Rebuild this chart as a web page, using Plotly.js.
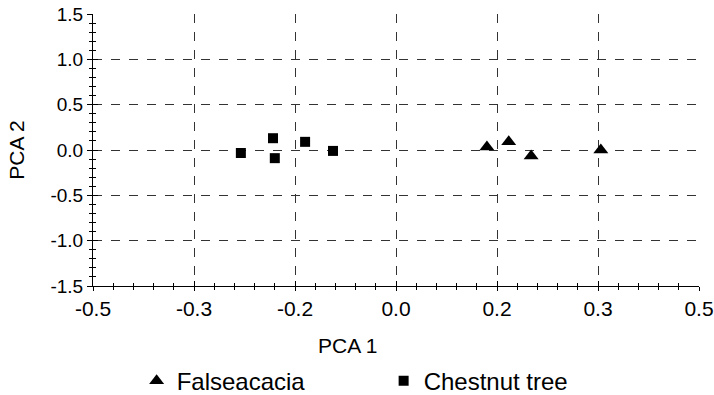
<!DOCTYPE html>
<html>
<head>
<meta charset="utf-8">
<script src="https://cdn.plot.ly/plotly-3.0.1.min.js"></script>
<style>html,body{margin:0;padding:0;background:#fff}#chart{width:714px;height:395px}</style>
</head>
<body>
<div id="chart"></div>
<script>
const falseacaciaX = [0.150, 0.186, 0.223, 0.338];
const falseacaciaY = [0.033, 0.09, -0.066, 0.0];
const chestnutX = [-0.256, -0.203, -0.200, -0.150, -0.104];
const chestnutY = [-0.033, 0.13, -0.09, 0.09, -0.01];
const xTickVals = [-0.5, -1/3, -1/6, 0, 1/6, 1/3, 0.5];
const xTickText = ["-0.5", "-0.3", "-0.2", "0.0", "0.2", "0.3", "0.5"];
const yTickVals = [-1.5, -1.0, -0.5, 0, 0.5, 1.0, 1.5];
const yTickText = ["-1.5", "-1.0", "-0.5", "0.0", "0.5", "1.0", "1.5"];
const xTitle = "PCA 1";
const yTitle = "PCA 2";

const FAM = "Liberation Sans, Arial, sans-serif";
const f = (s) => ({family: FAM, size: s, color: "#000"});

const traces = [
  {x: falseacaciaX, y: falseacaciaY, name: "Falseacacia", type: "scatter", mode: "markers",
   marker: {symbol: "triangle-up", size: 13, color: "#000"}},
  {x: chestnutX, y: chestnutY, name: "Chestnut tree", type: "scatter", mode: "markers",
   marker: {symbol: "square", size: 10, color: "#000"}},
  {x: [], y: [], xaxis: "x2", yaxis: "y2", type: "scatter", mode: "markers",
   showlegend: false, hoverinfo: "skip"}
];

const gridCommon = {showgrid: true, gridcolor: "#333", griddash: "dash", gridwidth: 1};

const layout = {
  width: 714, height: 395,
  margin: {l: 93, r: 15, t: 14, b: 109, autoexpand: false},
  paper_bgcolor: "#fff", plot_bgcolor: "#fff",
  font: f(17),
  showlegend: true,
  legend: {orientation: "h", x: 0.072, y: -0.35, xanchor: "left", yanchor: "middle",
           font: f(24), entrywidth: 202, itemwidth: 30, tracegroupgap: 0},
  xaxis: Object.assign({
    range: [-0.5, 0.5], tickmode: "array", tickvals: xTickVals, ticktext: xTickText,
    showline: true, linecolor: "#000", linewidth: 1, zeroline: false,
    ticks: "outside", ticklen: 4, tickcolor: "#000",
    minor: {tick0: -0.5, dtick: 1/30, ticks: "outside", ticklen: 3, tickcolor: "#000", showgrid: false},
    tickfont: f(21), automargin: false
  }, gridCommon),
  yaxis: Object.assign({
    range: [-1.5, 1.5], tickmode: "array", tickvals: yTickVals, ticktext: yTickText,
    showline: true, linecolor: "#000", linewidth: 1, zeroline: false,
    ticks: "outside", ticklen: 5, tickcolor: "#000",
    minor: {tick0: -1.5, dtick: 0.1, ticks: "outside", ticklen: 3, tickcolor: "#000", showgrid: false},
    title: {text: yTitle, font: f(21), standoff: 20},
    tickfont: f(19), automargin: false
  }, gridCommon),
  xaxis2: {
    overlaying: "x", matches: "x", anchor: "y2", side: "bottom", range: [-0.5, 0.5],
    tickmode: "array", tickvals: xTickVals, showticklabels: false, showgrid: false,
    showline: false, zeroline: false, ticks: "inside", ticklen: 5, tickcolor: "#000",
    minor: {tick0: -0.5, dtick: 1/30, ticks: "inside", ticklen: 3, tickcolor: "#000", showgrid: false}
  },
  yaxis2: {
    overlaying: "y", matches: "y", anchor: "x2", side: "left", range: [-1.5, 1.5],
    tickmode: "array", tickvals: yTickVals, showticklabels: false, showgrid: false,
    showline: false, zeroline: false, ticks: "inside", ticklen: 5, tickcolor: "#000",
    minor: {tick0: -1.5, dtick: 0.1, ticks: "inside", ticklen: 3, tickcolor: "#000", showgrid: false}
  },
  annotations: [
    {text: xTitle, xref: "paper", yref: "paper", x: 0.42, y: -0.217,
     xanchor: "center", yanchor: "middle", showarrow: false, font: f(21)}
  ]
};

Plotly.newPlot("chart", traces, layout, {displayModeBar: false, staticPlot: true});
</script>
</body>
</html>
